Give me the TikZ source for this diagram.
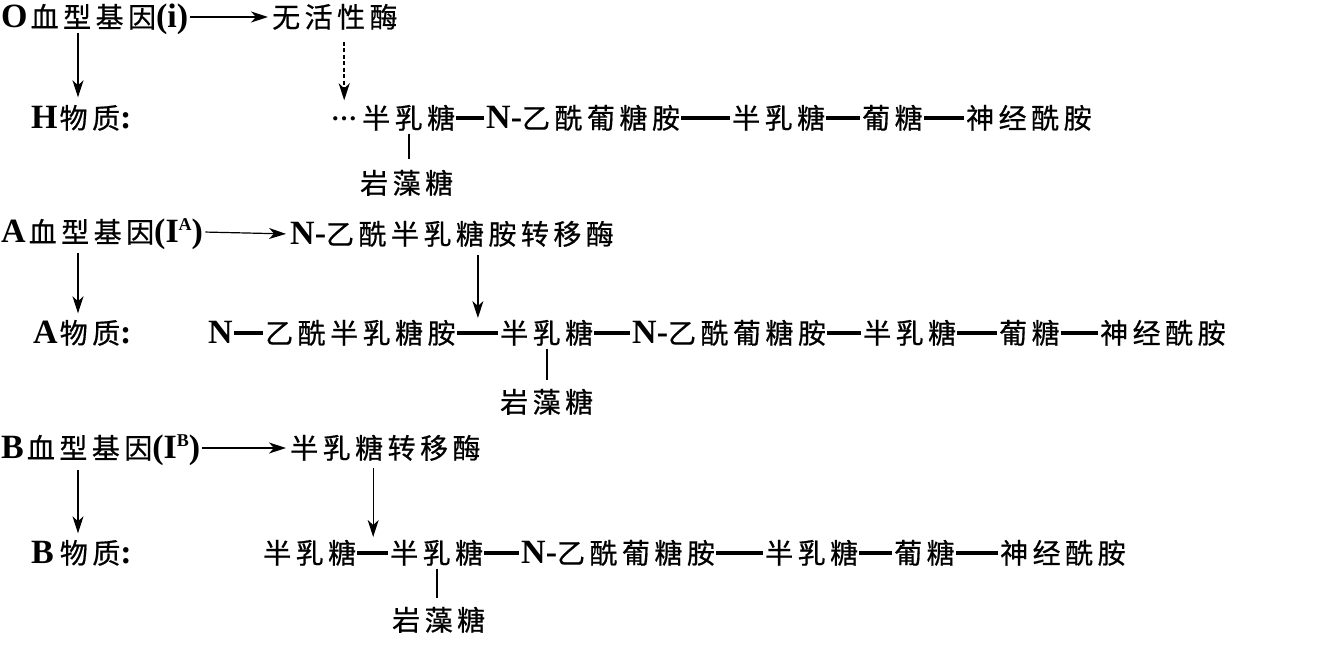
\documentclass[tikz,border=0pt]{standalone}
\usepackage{fontspec}
\newfontfamily\cjk[LetterSpace=16,FakeBold=0.6]{Noto Sans CJK SC}
\newfontfamily\latf{Liberation Serif}
\newcommand\lat[1]{{\latf\bfseries\fontsize{34}{34}\selectfont #1}}
\newcommand\supr[1]{\raisebox{12pt}{\latf\fontsize{18}{18}\selectfont #1}}
\usetikzlibrary{arrows.meta,calc}
\tikzset{
 txt/.style={inner sep=0pt, anchor=west, text height=24pt, text depth=3pt, font=\cjk\fontsize{28}{30}\selectfont},
 arr/.style={line width=1.2pt, -{Stealth[length=17pt,width=11pt,inset=5pt]}},
 darr/.style={arr, line width=1.5pt, dash pattern=on 4pt off 2.5pt},
 bond/.style={line width=3.2pt, shorten <=1pt, shorten >=2pt},
 tick/.style={line width=2.2pt},
}
\begin{document}
\begin{tikzpicture}[x=1pt,y=-1pt]
\useasboundingbox (0,0) rectangle (1332,659);
% ---------- O ----------
\node[txt] (g1) at (1,17) {\lat{O}\hspace{3pt}血型基因\lat{(i)}};
\node[txt] (e1) at (272,17) {无活性酶};
\node[txt] (h1) at (31,118) {\lat{H}\hspace{2pt}物质\lat{:}};
\node[txt] (d1) at (331,118) {\raisebox{8pt}{\latf\bfseries\fontsize{26}{26}\selectfont …}};
\node[txt] (c1b) at (362,118) {半乳糖};
\node[txt] (c1c) at (486,118) {\lat{N-}乙酰葡糖胺};
\node[txt] (c1d) at (732,118) {半乳糖};
\node[txt] (c1e) at (862,118) {葡糖};
\node[txt] (c1f) at (966,118) {神经酰胺};
\node[txt] (f1) at (360,183) {岩藻糖};
\draw[arr, shorten <=2pt, shorten >=4pt] (g1.east) -- (e1.west);
\draw[arr, shorten <=2pt, shorten >=7pt] ([xshift=77pt]g1.south west) -- ([xshift=77pt]g1.south west |- h1.north);
\draw[darr, shorten <=11pt, shorten >=4pt] (e1.south -| d1.north) -- (d1.north);
\draw[bond] (c1b.east) -- (c1c.west);
\draw[bond] (c1c.east) -- (c1d.west);
\draw[bond] (c1d.east) -- (c1e.west);
\draw[bond] (c1e.east) -- (c1f.west);
\draw[tick, shorten <=2pt, shorten >=10pt] (c1b.south) -- (c1b.south |- f1.north);
% ---------- A ----------
\node[txt] (g2) at (1,232) {\lat{A}\hspace{3pt}血型基因\lat{(I\supr{A})}};
\node[txt] (e2) at (290,234) {\lat{N-}乙酰半乳糖胺转移酶};
\node[txt] (h2) at (33,333) {\lat{A}\hspace{2pt}物质\lat{:}};
\node[txt] (n2) at (208,333) {\lat{N}};
\node[txt] (c2a) at (265,333) {乙酰半乳糖胺};
\node[txt] (c2b) at (500,333) {半乳糖};
\node[txt] (c2c) at (632,333) {\lat{N-}乙酰葡糖胺};
\node[txt] (c2d) at (863,333) {半乳糖};
\node[txt] (c2e) at (999,333) {葡糖};
\node[txt] (c2f) at (1100,333) {神经酰胺};
\node[txt] (f2) at (500,402) {岩藻糖};
\coordinate (b2) at ($(c2a.east)!0.5!(c2b.west)$);
\draw[arr, shorten <=2pt, shorten >=4pt] (g2.east) -- (e2.west);
\draw[arr, shorten <=7pt, shorten >=6pt] ([xshift=77pt]g2.south west) -- ([xshift=77pt]g2.south west |- h2.north);
\draw[arr, shorten <=7pt, shorten >=15pt] (e2.south -| b2) -- (b2);
\draw[bond] (n2.east) -- (c2a.west);
\draw[bond] (c2a.east) -- (c2b.west);
\draw[bond] (c2b.east) -- (c2c.west);
\draw[bond] (c2c.east) -- (c2d.west);
\draw[bond] (c2d.east) -- (c2e.west);
\draw[bond] (c2e.east) -- (c2f.west);
\draw[tick, shorten <=2pt, shorten >=8pt] (c2b.south) -- (c2b.south |- f2.north);
% ---------- B ----------
\node[txt] (g3) at (1,448) {\lat{B}\hspace{3pt}血型基因\lat{(I\supr{B})}};
\node[txt] (e3) at (290,448) {半乳糖转移酶};
\node[txt] (h3) at (31,553) {\lat{B}\hspace{6pt}物质\lat{:}};
\node[txt] (c3a) at (263,553) {半乳糖};
\node[txt] (c3b) at (390,553) {半乳糖};
\node[txt] (c3c) at (521,553) {\lat{N-}乙酰葡糖胺};
\node[txt] (c3d) at (765,553) {半乳糖};
\node[txt] (c3e) at (894,553) {葡糖};
\node[txt] (c3f) at (1000,553) {神经酰胺};
\node[txt] (f3) at (392,620) {岩藻糖};
\coordinate (b3) at ($(c3a.east)!0.5!(c3b.west)$);
\draw[arr, shorten <=2pt, shorten >=4pt] (g3.east) -- (e3.west);
\draw[arr, shorten <=8pt, shorten >=6pt] ([xshift=77pt]g3.south west) -- ([xshift=77pt]g3.south west |- h3.north);
\draw[arr, shorten <=6pt, shorten >=16pt] (e3.south -| b3) -- (b3);
\draw[bond] (c3a.east) -- (c3b.west);
\draw[bond] (c3b.east) -- (c3c.west);
\draw[bond] (c3c.east) -- (c3d.west);
\draw[bond] (c3d.east) -- (c3e.west);
\draw[bond] (c3e.east) -- (c3f.west);
\draw[tick, shorten <=2pt, shorten >=8pt] (c3b.south) -- (c3b.south |- f3.north);
\end{tikzpicture}
\end{document}
